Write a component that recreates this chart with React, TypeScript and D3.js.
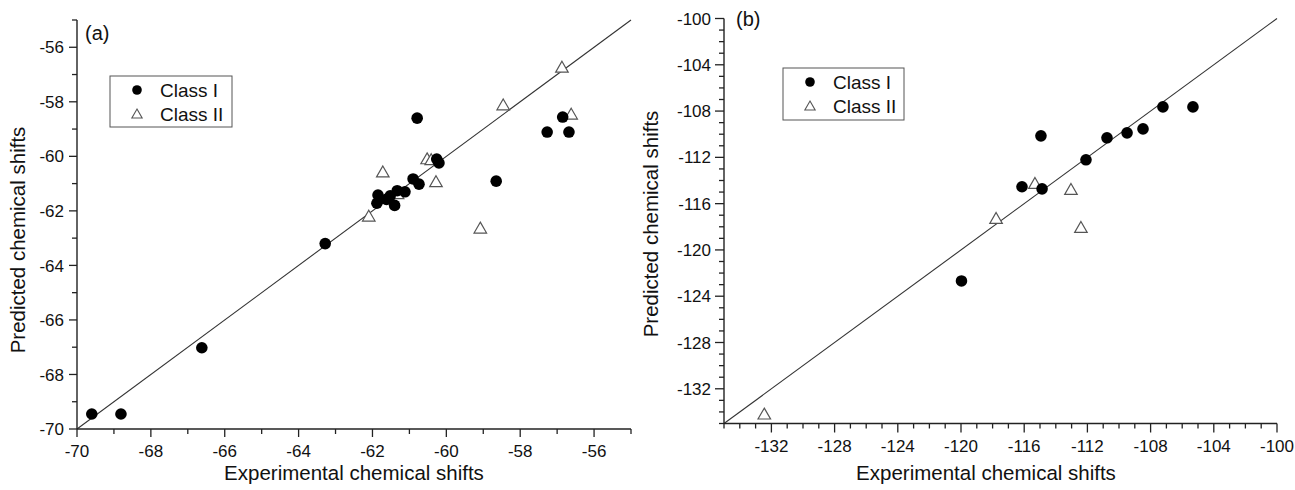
import React from "react";
import * as d3 from "d3";

// panel (a) values
const aClassIx = [-69.6, -68.81, -66.62, -63.28, -61.88, -61.85, -61.62, -61.52, -61.4, -61.33, -61.12, -60.9, -60.74, -60.79, -60.26, -60.2, -58.65, -57.27, -56.85, -56.68];
const aClassIy = [-69.45, -69.45, -67.02, -63.2, -61.72, -61.42, -61.58, -61.45, -61.8, -61.26, -61.3, -60.83, -61.02, -58.6, -60.1, -60.24, -60.91, -59.11, -58.56, -59.11];
const aClassIIx = [-62.1, -61.72, -61.32, -60.52, -60.41, -60.28, -59.08, -58.46, -56.87, -56.62];
const aClassIIy = [-62.24, -60.62, -61.42, -60.14, -60.17, -60.98, -62.68, -58.16, -56.78, -58.5];
const aMajorTicks = [-70, -68, -66, -64, -62, -60, -58, -56];

// panel (b) values
const bClassIx = [-119.97, -116.14, -114.87, -114.94, -112.09, -110.76, -109.49, -108.48, -107.22, -105.32];
const bClassIy = [-122.68, -114.54, -114.72, -110.14, -112.21, -110.31, -109.88, -109.54, -107.64, -107.64];
const bClassIIx = [-132.45, -117.78, -115.32, -113.04, -112.41];
const bClassIIy = [-134.3, -117.39, -114.37, -114.89, -118.17];
const bMajorTicks = [-132, -128, -124, -120, -116, -112, -108, -104, -100];

const FONT = "'Liberation Sans', Arial, Helvetica, sans-serif";
const AXIS = "#222";

type PanelProps = {
  tag: string;
  domain: [number, number];
  box: { left: number; right: number; top: number; bottom: number };
  majors: number[];
  c1x: number[]; c1y: number[];
  c2x: number[]; c2y: number[];
  legend: { x: number; y: number; w: number; h: number };
  tagPos: [number, number];
  xTitle: [number, number];
  yTitle: [number, number];
  majorLen: number;
};

const tri = d3.symbol(d3.symbolTriangle, 68)();
const triSmall = d3.symbol(d3.symbolTriangle, 46)();

function Panel(p: PanelProps) {
  const x = d3.scaleLinear().domain(p.domain).range([p.box.left, p.box.right]);
  const y = d3.scaleLinear().domain(p.domain).range([p.box.bottom, p.box.top]);
  const minors = d3.range(p.domain[0], p.domain[1] + 0.5, 1).filter((v) => !p.majors.includes(v));
  const L = p.legend;
  return (
    <g fontFamily={FONT}>
      {/* diagonal y = x */}
      <line x1={x(p.domain[0])} y1={y(p.domain[0])} x2={x(p.domain[1])} y2={y(p.domain[1])} stroke="#333" strokeWidth={1.1} />
      {/* axes */}
      <line x1={p.box.left} y1={p.box.bottom} x2={p.box.right} y2={p.box.bottom} stroke={AXIS} strokeWidth={1.4} />
      <line x1={p.box.left} y1={p.box.bottom} x2={p.box.left} y2={p.box.top} stroke={AXIS} strokeWidth={1.4} />
      {minors.map((v) => (
        <g key={"m" + v}>
          <line x1={x(v)} x2={x(v)} y1={p.box.bottom} y2={p.box.bottom + 5} stroke={AXIS} strokeWidth={1.3} />
          <line x1={p.box.left - 5} x2={p.box.left} y1={y(v)} y2={y(v)} stroke={AXIS} strokeWidth={1.3} />
        </g>
      ))}
      {p.majors.map((v) => (
        <g key={"M" + v}>
          <line x1={x(v)} x2={x(v)} y1={p.box.bottom} y2={p.box.bottom + p.majorLen} stroke={AXIS} strokeWidth={1.3} />
          <text x={x(v)} y={p.box.bottom + 28} textAnchor="middle" fontSize={17} fill="#111">{v}</text>
          <line x1={p.box.left - p.majorLen} x2={p.box.left} y1={y(v)} y2={y(v)} stroke={AXIS} strokeWidth={1.3} />
          <text x={p.box.left - 13} y={y(v)} dy="0.36em" textAnchor="end" fontSize={17} fill="#111">{v}</text>
        </g>
      ))}
      {/* points */}
      {p.c2x.map((v, i) => (
        <path key={"t" + i} d={tri!} transform={`translate(${x(v)},${y(p.c2y[i])})`} fill="#fff" stroke="#555" strokeWidth={1.2} />
      ))}
      {p.c1x.map((v, i) => (
        <circle key={"c" + i} cx={x(v)} cy={y(p.c1y[i])} r={5.8} fill="#000" />
      ))}
      {/* legend */}
      <rect x={L.x} y={L.y} width={L.w} height={L.h} fill="#fff" stroke="#555" strokeWidth={1} />
      <circle cx={L.x + 27} cy={L.y + 14} r={4.8} fill="#000" />
      <path d={triSmall!} transform={`translate(${L.x + 27},${L.y + 39})`} fill="#fff" stroke="#555" strokeWidth={1.1} />
      <text x={L.x + 50} y={L.y + 21} fontSize={19} fill="#111">Class I</text>
      <text x={L.x + 50} y={L.y + 45} fontSize={19} fill="#111">Class II</text>
      <text x={p.tagPos[0]} y={p.tagPos[1]} fontSize={20} fill="#111">{p.tag}</text>
      <text x={p.xTitle[0]} y={p.xTitle[1]} textAnchor="middle" fontSize={20.5} fill="#111">Experimental chemical shifts</text>
      <text transform={`translate(${p.yTitle[0]},${p.yTitle[1]}) rotate(-90)`} textAnchor="middle" fontSize={20.5} fill="#111">Predicted chemical shifts</text>
    </g>
  );
}

export default function App() {
  return (
    <svg width={1295} height={490} style={{ position: "absolute", left: 0, top: 0, background: "#fff" }}>
      <Panel
        tag="(a)"
        domain={[-70, -55]}
        box={{ left: 77, right: 631, top: 20, bottom: 429 }}
        majors={aMajorTicks}
        c1x={aClassIx} c1y={aClassIy} c2x={aClassIIx} c2y={aClassIIy}
        legend={{ x: 110, y: 76, w: 122, h: 51 }}
        tagPos={[85, 40]}
        xTitle={[354, 480]}
        yTitle={[25, 240]}
        majorLen={8}
      />
      <Panel
        tag="(b)"
        domain={[-135, -100]}
        box={{ left: 724, right: 1277, top: 18.5, bottom: 423.5 }}
        majors={bMajorTicks}
        c1x={bClassIx} c1y={bClassIy} c2x={bClassIIx} c2y={bClassIIy}
        legend={{ x: 783, y: 68, w: 121, h: 52 }}
        tagPos={[736, 26]}
        xTitle={[986, 480]}
        yTitle={[658, 224]}
        majorLen={9}
      />
    </svg>
  );
}
